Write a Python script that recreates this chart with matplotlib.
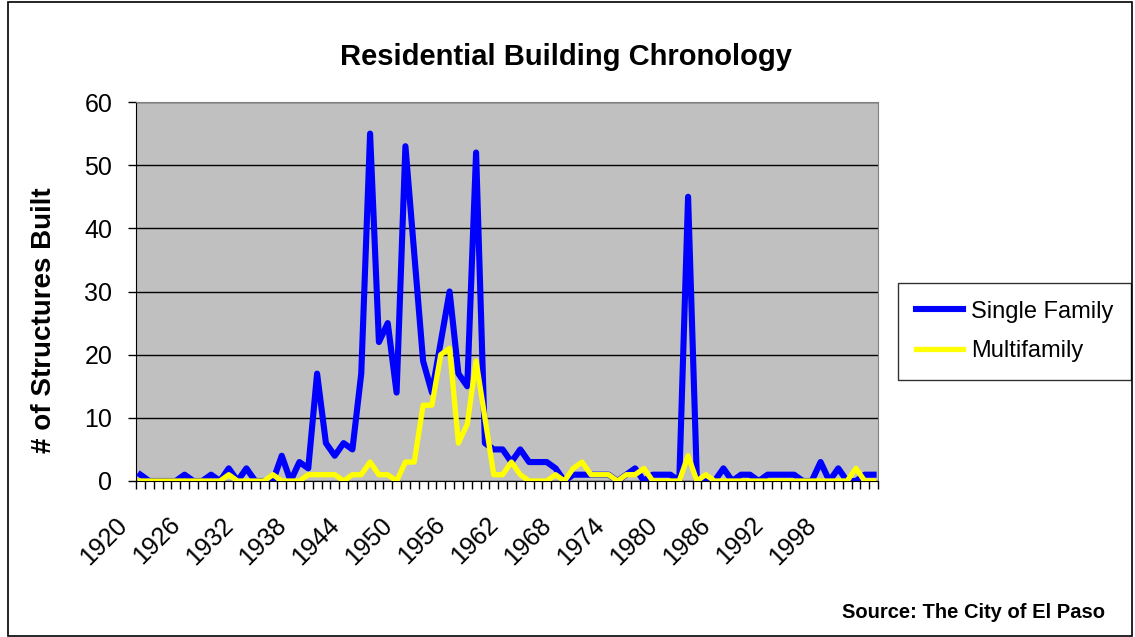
import numpy as np
import matplotlib.pyplot as plt
from matplotlib.patches import Rectangle
from matplotlib.transforms import ScaledTranslation

# DATA
years = list(range(1920, 2004))

single_family = [
    1, 0, 0, 0, 0, 1, 0, 0, 1, 0,       # 1920-1929
    2, 0, 2, 0, 0, 0, 4, 0, 3, 2,       # 1930-1939
    17, 6, 4, 6, 5, 17, 55, 22, 25, 14,  # 1940-1949
    53, 36, 19, 14, 22, 30, 17, 15, 52, 6,  # 1950-1959
    5, 5, 3, 5, 3, 3, 3, 2, 0, 1,       # 1960-1969
    1, 1, 1, 1, 0, 1, 2, 0, 1, 1,       # 1970-1979
    1, 0, 45, 0, 0, 0, 2, 0, 1, 1,      # 1980-1989
    0, 1, 1, 1, 1, 0, 0, 3, 0, 2,       # 1990-1999
    0, 0, 1, 1,                         # 2000-2003
]

multifamily = [
    0, 0, 0, 0, 0, 0, 0, 0, 0, 0,       # 1920-1929
    1, 0, 0, 0, 0, 1, 0, 0, 0, 1,       # 1930-1939
    1, 1, 1, 0, 1, 1, 3, 1, 1, 0,       # 1940-1949
    3, 3, 12, 12, 20, 21, 6, 9, 19, 10,  # 1950-1959
    1, 1, 3, 1, 0, 0, 0, 1, 0, 2,       # 1960-1969
    3, 1, 1, 1, 0, 1, 1, 2, 0, 0,       # 1970-1979
    0, 0, 4, 0, 1, 0, 0, 0, 0, 0,       # 1980-1989
    0, 0, 0, 0, 0, 0, 0, 0, 0, 0,       # 1990-1999
    0, 2, 0, 0,                         # 2000-2003
]

label_years = years[::6]

FONT = "Liberation Sans"
W, H = 1135, 637
fig = plt.figure(figsize=(W / 100, H / 100), dpi=100)
fig.patch.set_facecolor("white")

# chart area border
fig.patches.append(Rectangle((8 / W, 1 / H), 1124 / W, 634 / H, transform=fig.transFigure,
                             fill=False, edgecolor="black", linewidth=1.2))

ax = fig.add_axes([136 / W, 1 - 481 / H, (878 - 136) / W, (481 - 102) / H])
ax.set_facecolor("#C0C0C0")

# category positions (one slot per year)
pos = np.arange(len(years)) + 0.5
ax.plot(pos, single_family, color="#0000FF", linewidth=4.4, solid_joinstyle="round",
        label="Single Family", zorder=3)
ax.plot(pos, multifamily, color="#FFFF00", linewidth=3.8, solid_joinstyle="round",
        label="Multifamily", zorder=4)

ax.set_xlim(0, len(years))
ax.set_ylim(0, 60)
ax.set_yticks(np.arange(0, 61, 10))
ax.yaxis.grid(True, color="black", linewidth=1.0)
ax.set_axisbelow(True)
ax.tick_params(axis="y", direction="out", length=6, width=1, labelsize=18, pad=11)

# ticks between categories, labels every 6 years
ax.set_xticks(np.arange(0, len(years) + 1), minor=True)
ax.set_xticks([years.index(y) + 0.5 for y in label_years])
ax.set_xticklabels([str(y) for y in label_years], rotation=45, ha="right", va="center",
                   rotation_mode="anchor", fontsize=18)
ax.tick_params(axis="x", which="major", length=0, pad=29)
ax.tick_params(axis="x", which="minor", direction="out", length=6, width=1)
for lbl in ax.get_xticklabels():
    lbl.set_transform(lbl.get_transform() + ScaledTranslation(-17 / 100, 0, fig.dpi_scale_trans))

for side in ["top", "right"]:
    ax.spines[side].set_color("#808080")
ax.spines["left"].set_color("black")
ax.spines["bottom"].set_color("black")

fig.text(566 / W, 1 - 57 / H, "Residential Building Chronology", ha="center", va="center",
         fontsize=21, fontweight="bold", family=FONT)
fig.text(44 / W, 1 - 320 / H, "# of Structures Built", ha="center", va="center",
         rotation=90, fontsize=20, fontweight="bold", family=FONT)
fig.text(1105 / W, 1 - 612 / H, "Source: The City of El Paso", ha="right", va="center",
         fontsize=14.5, fontweight="bold", family=FONT)

leg = ax.legend(loc="upper left", bbox_to_anchor=(898 / W, 1 - 283 / H),
                bbox_transform=fig.transFigure, frameon=True, fancybox=False,
                edgecolor="black", handlelength=2.0, handletextpad=0.35, borderaxespad=0,
                borderpad=0.75, labelspacing=0.75, prop={"family": FONT, "size": 17})
leg.get_frame().set_linewidth(1.0)

for t in ax.get_yticklabels() + ax.get_xticklabels():
    t.set_family(FONT)

fig.savefig("out.png", dpi=100)
